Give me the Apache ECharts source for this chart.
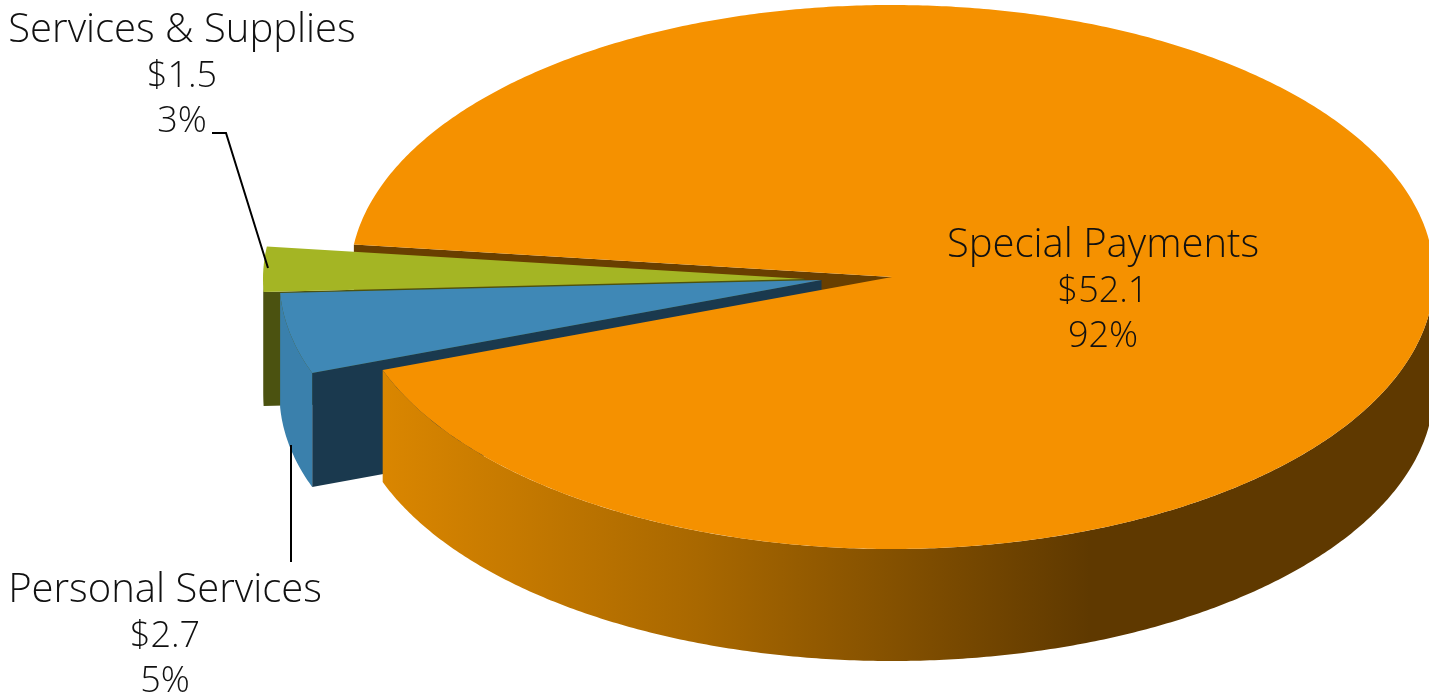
<!DOCTYPE html>
<html>
<head>
<meta charset="utf-8">
<style>html,body{margin:0;padding:0;background:#fff;overflow:hidden}#c{width:1429px;height:695px}</style>
<script src="https://cdn.jsdelivr.net/npm/echarts@6/dist/echarts.min.js"></script>
</head>
<body>
<div id="c"></div>
<script>
// Data
const categories = ['Special Payments', 'Services & Supplies', 'Personal Services'];
const amounts = [52.1, 1.5, 2.7];
const amountLabels = ['$52.1', '$1.5', '$2.7'];
const percentLabels = ['92%', '3%', '5%'];

// Layout and style (not data)
const RX = 542, RY = 272, START = 20;
const looks = [
  { cx: 892, cy: 277, depth: 112, top: '#F59100', face: '#693F00', z: { face: 1, body: 30 },
    wall: { type: 'linear', x: 383, y: 0, x2: 1429, y2: 0, global: true,
      colorStops: [{ offset: 0, color: '#DA8600' }, { offset: 0.3, color: '#A96800' },
                   { offset: 0.676, color: '#5F3900' }, { offset: 1, color: '#5F3900' }] },
    label: { x: 1103, y: 243 } },
  { cx: 805, cy: 279, depth: 114, top: '#A4B524', face: '#4B5210', wall: '#4B5210', z: { face: 10, body: 10 },
    label: { x: 182, y: 28 }, leader: [[212, 133], [226, 133], [268, 268]] },
  { cx: 821.5, cy: 280, depth: 114, top: '#3F88B6', face: '#1A394E', wall: '#3A80AC', z: { face: 20, body: 20 },
    label: { x: 165, y: 588 }, leader: [[291, 445], [291, 562]] }
];
const LINE_GAP = 45.5;
const NAME_FONT = '300 40px "Open Sans", Lato, sans-serif';
const VALUE_FONT = '300 36px "Open Sans", Lato, sans-serif';

const total = amounts.reduce((s, v) => s + v, 0);
function rimPoint(look, deg, drop) {
  const r = deg * Math.PI / 180;
  return [look.cx - RX * Math.cos(r), look.cy + RY * Math.sin(r) + drop];
}
function arc(look, from, to, drop) {
  const pts = [];
  const n = Math.max(2, Math.ceil(Math.abs(to - from) * 2));
  for (let i = 0; i <= n; i++) pts.push(rimPoint(look, from + (to - from) * i / n, drop));
  return pts;
}
function renderItem(params, api) {
  const i = params.dataIndex, look = looks[i], D = look.depth;
  let begin = START;
  for (let k = 0; k < i; k++) begin += api.value(0, k) / total * 360;
  const end = begin + api.value(0) / total * 360;
  const children = [];
  // cut face at the closing edge of the slice
  const c = [look.cx, look.cy], e = rimPoint(look, end, 0);
  children.push({ type: 'polygon', z2: look.z.face, silent: true,
    shape: { points: [c, e, [e[0], e[1] + D], [c[0], c[1] + D]] },
    style: { fill: look.face } });
  // outer wall, only where the rim faces the viewer (0-180 degrees, modulo 360)
  [[0, 180], [360, 540]].forEach(function (w) {
    const a = Math.max(begin, w[0]), b = Math.min(end, w[1]);
    if (b > a) {
      children.push({ type: 'polygon', z2: look.z.body, silent: true,
        shape: { points: arc(look, a, b, 0).concat(arc(look, b, a, D)) },
        style: { fill: look.wall } });
    }
  });
  // top surface
  children.push({ type: 'polygon', z2: look.z.body + 1, silent: true,
    shape: { points: [c].concat(arc(look, begin, end, 0)) },
    style: { fill: look.top } });
  // leader line
  if (look.leader) {
    children.push({ type: 'polyline', z2: 90, silent: true,
      shape: { points: look.leader },
      style: { stroke: '#000', lineWidth: 2, fill: null } });
  }
  // label
  [categories[i], amountLabels[i], percentLabels[i]].forEach(function (t, n) {
    children.push({ type: 'text', z2: 100, silent: true,
      style: { text: t, x: look.label.x, y: look.label.y + n * LINE_GAP + 3,
        align: 'center', verticalAlign: 'middle',
        font: n === 0 ? NAME_FONT : VALUE_FONT, fill: '#111' } });
  });
  return { type: 'group', children: children };
}
const chart = echarts.init(document.getElementById('c'), null, { renderer: 'canvas' });
chart.setOption({
  animation: false,
  backgroundColor: '#fff',
  series: [{
    type: 'custom',
    coordinateSystem: 'none',
    renderItem: renderItem,
    silent: true,
    clip: false,
    data: amounts.map(function (v) { return [v]; })
  }]
});
</script>
</body>
</html>
